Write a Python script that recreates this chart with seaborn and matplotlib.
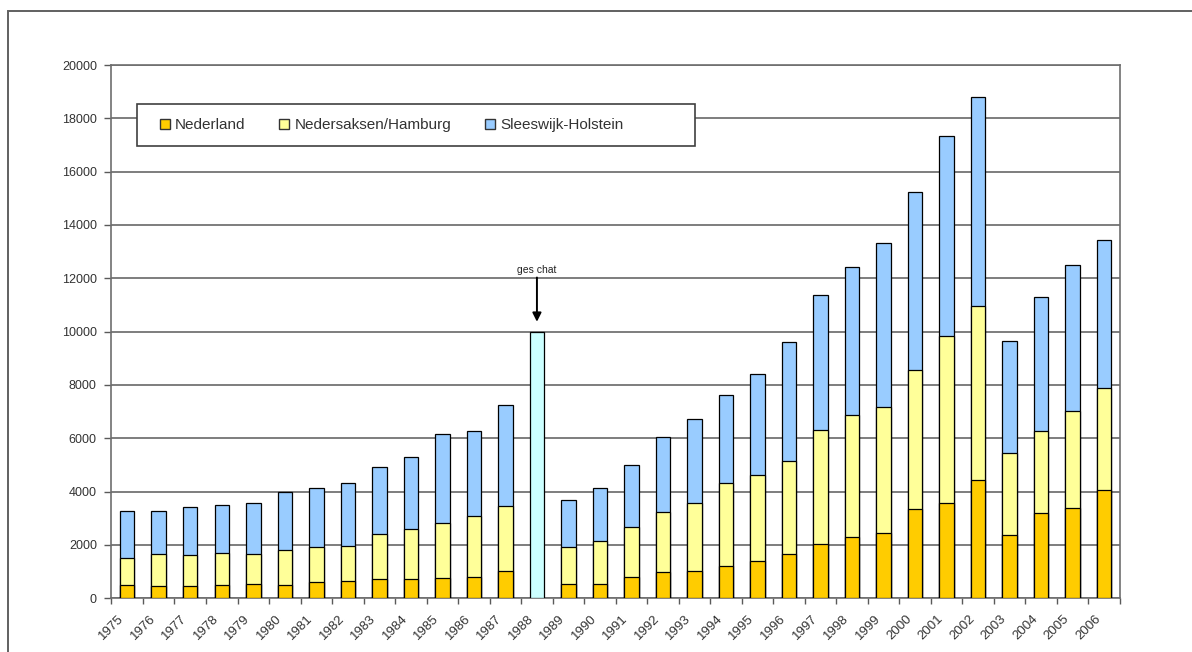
import numpy as np
import pandas as pd
import matplotlib
matplotlib.use("Agg")
import matplotlib.pyplot as plt
from matplotlib.patches import Patch, Rectangle
import seaborn as sns

# Jaren en aantallen per regio (1988: alleen een geschat totaal)
years = [str(y) for y in range(1975, 2007)]
nederland = [500, 460, 460, 510, 550, 510, 600, 650, 740, 740, 760, 800, 1040, np.nan,
             550, 550, 790, 980, 1040, 1220, 1400, 1650, 2040, 2290, 2430, 3330, 3590,
             4450, 2370, 3180, 3400, 4050]
nedersaksen_hamburg = [1020, 1200, 1160, 1200, 1120, 1290, 1310, 1310, 1680, 1860, 2080,
                       2280, 2420, np.nan, 1390, 1600, 1870, 2260, 2520, 3090, 3240, 3480,
                       4280, 4590, 4750, 5230, 6230, 6510, 3070, 3080, 3640, 3850]
sleeswijk_holstein = [1770, 1620, 1800, 1800, 1890, 2200, 2230, 2360, 2490, 2710, 3310,
                      3200, 3790, np.nan, 1750, 1990, 2330, 2810, 3180, 3320, 3760, 4500,
                      5050, 5550, 6140, 6690, 7500, 7840, 4200, 5040, 5470, 5520]
geschat = [np.nan] * 13 + [10000] + [np.nan] * 18
series_labels = ["Nederland", "Nedersaksen/Hamburg", "Sleeswijk-Holstein"]
y_ticks = list(range(0, 20001, 2000))

ORANGE = "#FFCC00"
YELLOW = "#FFFF99"
BLUE = "#99CCFF"
CYAN = "#CCFFFF"
GRID = "#5a5a5a"
TEXT = "#333333"

sns.set_style("white")
plt.rcParams["font.family"] = ["Liberation Sans", "DejaVu Sans"]

df = pd.DataFrame({
    "jaar": years,
    "nl": nederland,
    "ns": nedersaksen_hamburg,
    "sh": sleeswijk_holstein,
    "geschat": geschat,
})
df["cum_ns"] = df["nl"] + df["ns"]
df["cum_sh"] = df["cum_ns"] + df["sh"]

fig = plt.figure(figsize=(11.92, 6.52), dpi=100)
ax = fig.add_axes([0.0935, 0.0824, 0.8461, 0.8179])

bar_kw = dict(order=years, width=0.46, edgecolor="black", linewidth=0.9,
              saturation=1, errorbar=None, ax=ax, zorder=3)
# stacked bars: draw cumulative totals back to front
sns.barplot(data=df, x="jaar", y="cum_sh", color=BLUE, **bar_kw)
sns.barplot(data=df, x="jaar", y="cum_ns", color=YELLOW, **bar_kw)
sns.barplot(data=df, x="jaar", y="nl", color=ORANGE, **bar_kw)
sns.barplot(data=df, x="jaar", y="geschat", color=CYAN, **bar_kw)

ax.set_xlabel("")
ax.set_ylabel("")
ax.set_xlim(-0.5, len(years) - 0.5)
ax.set_ylim(0, 20000)

# y axis
ax.set_yticks(y_ticks)
ax.set_yticklabels([str(v) for v in y_ticks])
ax.yaxis.grid(True, color=GRID, linewidth=1.1)
ax.set_axisbelow(True)
ax.tick_params(axis="y", direction="out", length=5, width=1, color=GRID,
               pad=5.5, labelsize=9, labelcolor=TEXT, left=True)

# x axis: tick marks between the bars, labels at the left boundary
bounds = np.arange(len(years)) - 0.5
ax.set_xticks(bounds)
ax.set_xticklabels(years)
ax.set_xticks([len(years) - 0.5], minor=True)
for lab in ax.get_xticklabels():
    lab.set_rotation(45)
    lab.set_ha("center")
ax.tick_params(axis="x", which="both", direction="out", length=4, width=1,
               color=GRID, pad=6.5, labelsize=9.5, labelcolor=TEXT, bottom=True)

for sp in ax.spines.values():
    sp.set_visible(True)
    sp.set_color("#6e6e6e")
    sp.set_linewidth(1.2)

# annotation above the estimated bar
i88 = years.index("1988")
est = geschat[i88]
ax.annotate("", xy=(i88, est + 370), xytext=(i88, est + 2030),
            arrowprops=dict(arrowstyle="-|>", color="black", lw=1.4,
                            mutation_scale=13, shrinkA=0, shrinkB=0), zorder=5)
ax.text(i88, est + 2120, "ges chat", ha="center", va="bottom", fontsize=7.5,
        color="#222222")

# legend with a wide box
ax.add_patch(Rectangle((0.0253, 0.848), 0.553, 0.0789, transform=ax.transAxes,
                       facecolor="white", edgecolor="#404040", linewidth=1.2,
                       zorder=4))
handles = [Patch(facecolor=c, edgecolor="#333333", linewidth=1.0)
           for c in (ORANGE, YELLOW, BLUE)]
leg = ax.legend(handles, series_labels, ncol=3, loc="center left",
                bbox_to_anchor=(0.0481, 0.8875), frameon=False, fontsize=11,
                handlelength=0.65, handleheight=0.65, handletextpad=0.35,
                columnspacing=2.2, borderpad=0, borderaxespad=0)
leg.set_zorder(6)
for t in leg.get_texts():
    t.set_color(TEXT)

# outer chart frame
fig.patches.append(Rectangle((8 / 1192, -0.1), 1.2, 1.1 - 11 / 652,
                             transform=fig.transFigure, facecolor="none",
                             edgecolor="#606060", linewidth=1.4))

fig.savefig("out.png", dpi=100)
